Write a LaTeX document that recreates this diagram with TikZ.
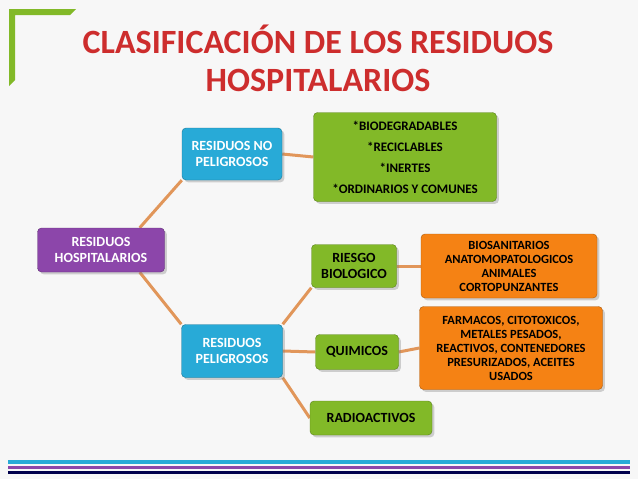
\documentclass[tikz,border=0pt]{standalone}
\usepackage{fontspec}
\setmainfont{Carlito}
\usetikzlibrary{positioning,backgrounds,shadows}
\definecolor{titlered}{RGB}{205,45,45}
\definecolor{boxpurple}{RGB}{140,70,170}
\definecolor{boxblue}{RGB}{40,170,215}
\definecolor{boxgreen}{RGB}{130,185,40}
\definecolor{boxorange}{RGB}{245,130,20}
\definecolor{linkorange}{RGB}{225,150,90}

\begin{document}
\begin{tikzpicture}[x=1pt, y=-1pt,
    box/.style={rectangle, rounded corners=4pt, draw=#1!70!black, fill=#1, text=white,
                align=center, font=\bfseries\fontsize{14}{16}\selectfont, inner sep=2pt,
                drop shadow={opacity=0.35}},
    gbox/.style={box=boxgreen, text=black},
    obox/.style={box=boxorange, text=black, font=\bfseries\fontsize{12.5}{14}\selectfont},
    link/.style={draw=linkorange, line width=3pt}
]
    \useasboundingbox (0,0) rectangle (638,479);

    % title
    \fill[boxgreen] (9,9) -- (76,9) -- (70,15) -- (15,15) -- (15,80) -- (9,86) -- cycle;
    \node[text=titlered, font=\bfseries\fontsize{34}{38}\selectfont, align=center] (title) at (318,58)
        {CLASIFICACIÓN DE LOS RESIDUOS\\HOSPITALARIOS};

    % boxes
    \node[box=boxpurple, minimum width=127pt, minimum height=44pt] (main) at (101,250) {RESIDUOS\\HOSPITALARIOS};
    \node[box=boxblue, minimum width=100pt, minimum height=52pt] (nopel) at (232,154) {RESIDUOS NO\\PELIGROSOS};
    \node[gbox, minimum width=183pt, minimum height=89pt, font=\bfseries\fontsize{13}{21}\selectfont] (list) at (405,157)
        {*BIODEGRADABLES\\*RECICLABLES\\*INERTES\\*ORDINARIOS Y COMUNES};
    \node[box=boxblue, minimum width=101pt, minimum height=53pt] (pel) at (232,351) {RESIDUOS\\PELIGROSOS};
    \node[gbox, minimum width=85pt, minimum height=43pt] (bio) at (354,266) {RIESGO\\BIOLOGICO};
    \node[obox, minimum width=176pt, minimum height=64pt] (biolist) at (509,266)
        {BIOSANITARIOS\\ANATOMOPATOLOGICOS\\ANIMALES\\CORTOPUNZANTES};
    \node[gbox, minimum width=83pt, minimum height=35pt] (quim) at (357,352) {QUIMICOS};
    \node[obox, minimum width=183pt, minimum height=83pt] (quimlist) at (511,348)
        {FARMACOS, CITOTOXICOS,\\METALES PESADOS,\\REACTIVOS, CONTENEDORES\\PRESURIZADOS, ACEITES\\USADOS};
    \node[gbox, minimum width=122pt, minimum height=34pt] (radio) at (371,418) {RADIOACTIVOS};

    % connections
    \begin{scope}[on background layer]
        \fill[white!97!black] (0,0) rectangle (638,479);
        \draw[link] (main.north east) ++(-25,0) -- (nopel.south west);
        \draw[link] (main.south east) ++(-25,0) -- (pel.north west);
        \draw[link] (nopel.east) -- (list.west);
        \draw[link] (pel.north east) -- (bio.south west);
        \draw[link] (pel.east) -- (quim.west);
        \draw[link] (pel.south east) -- (radio.west);
        \draw[link] (bio.east) -- (biolist.west);
        \draw[link] (quim.east) -- (quimlist.west);
    \end{scope}

    % bottom rules
    \fill[boxblue] (8,460) rectangle (630,464);
    \fill[boxpurple] (8,465.5) rectangle (630,469);
    \fill[blue!30!black] (8,470.5) rectangle (630,474);
\end{tikzpicture}
\end{document}
